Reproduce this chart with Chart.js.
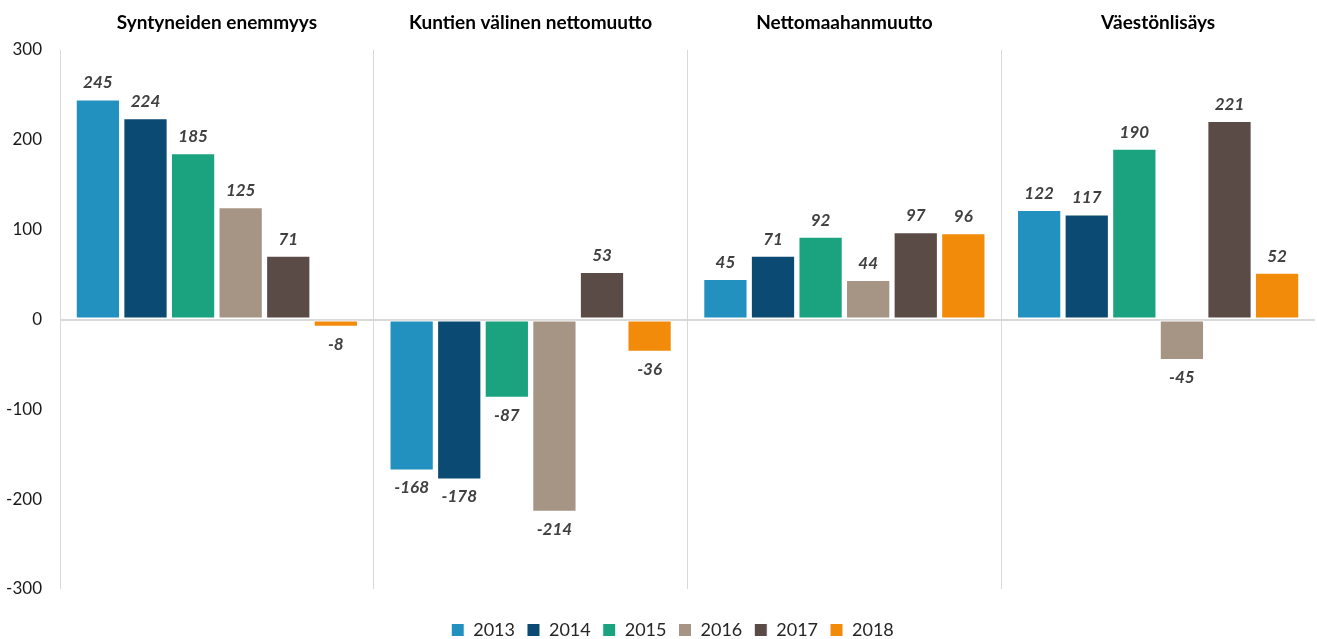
<!DOCTYPE html>
<html>
<head>
<meta charset="utf-8">
<script src="https://cdn.jsdelivr.net/npm/chart.js@4"></script>
<style>
html,body{margin:0;padding:0;background:#fff;}
#wrap{width:1317px;height:639px;position:relative;}
</style>
</head>
<body>
<div id="wrap"><canvas id="c" width="1317" height="639"></canvas></div>
<script>
const categories = ["Syntyneiden enemmyys", "Kuntien välinen nettomuutto", "Nettomaahanmuutto", "Väestönlisäys"];
const years = ["2013", "2014", "2015", "2016", "2017", "2018"];
const v2013 = [245, -168, 45, 122];
const v2014 = [224, -178, 71, 117];
const v2015 = [185, -87, 92, 190];
const v2016 = [125, -214, 44, -45];
const v2017 = [71, 53, 97, 221];
const v2018 = [-8, -36, 96, 52];
const colors = ["#2391C0", "#0B4A72", "#1BA37F", "#A69484", "#5A4B47", "#F28A0A"];
const yTicks = [-300, -200, -100, 0, 100, 200, 300];

const series = [v2013, v2014, v2015, v2016, v2017, v2018];
const FONT = "Lato, 'Open Sans', sans-serif";

const labelPlugin = {
  id: 'valueLabels',
  afterInit(chart) {
    const lg = chart.legend;
    if (lg) {
      const origFit = lg.fit;
      lg.fit = function () { origFit.call(this); this.height = 50; };
      const origDraw = lg.draw;
      lg.draw = function () {
        const c = this.ctx;
        c.save();
        c.translate(15, 20);
        origDraw.call(this);
        c.restore();
      };
    }
  },
  afterDatasetsDraw(chart) {
    const ctx = chart.ctx;
    ctx.save();
    ctx.font = "italic bold 17px " + FONT;
    ctx.fillStyle = "#404040";
    ctx.textAlign = "center";
    chart.data.datasets.forEach((ds, di) => {
      const meta = chart.getDatasetMeta(di);
      meta.data.forEach((el, i) => {
        const v = ds.data[i];
        if (v >= 0) {
          ctx.textBaseline = "bottom";
          ctx.fillText(String(v), el.x, el.y - 8);
        } else {
          ctx.textBaseline = "top";
          ctx.fillText(String(v), el.x, el.y + 9);
        }
      });
    });
    ctx.restore();
  }
};

new Chart(document.getElementById('c'), {
  type: 'bar',
  data: {
    labels: categories,
    datasets: years.map((y, i) => ({
      label: y,
      data: series[i],
      backgroundColor: colors[i],
      borderColor: "#ffffff",
      borderWidth: 1,
      borderSkipped: false,
      categoryPercentage: 0.91,
      barPercentage: 0.93
    }))
  },
  options: {
    responsive: false,
    animation: false,
    layout: { padding: { left: 0, right: 2, top: 0, bottom: 0 } },
    plugins: {
      legend: {
        position: 'bottom',
        labels: {
          font: { size: 18, family: FONT },
          color: "#262626",
          boxWidth: 13,
          boxHeight: 13,
          padding: 12
        }
      },
      tooltip: { enabled: false }
    },
    scales: {
      x: {
        position: 'top',
        offset: true,
        grid: {
          offset: true,
          drawTicks: false,
          color: (ctx) => (ctx.index === undefined || ctx.index >= 4) ? 'rgba(0,0,0,0)' : '#D9D9D9',
          lineWidth: 1
        },
        border: { display: false },
        ticks: {
          font: { size: 19, weight: 'bold', family: FONT },
          color: "#000000",
          padding: 16
        },
        afterFit(scale) { scale.height = 50; }
      },
      y: {
        min: -300,
        max: 300,
        afterBuildTicks(scale) { scale.ticks = yTicks.map(v => ({ value: v })); },
        grid: {
          drawTicks: false,
          color: (ctx) => (ctx.tick && ctx.tick.value === 0) ? '#D9D9D9' : 'rgba(0,0,0,0)',
          lineWidth: 2
        },
        border: { display: false },
        ticks: {
          font: { size: 17, family: FONT },
          color: "#1a1a1a",
          padding: 18
        },
        afterFit(scale) { scale.width = 60; }
      }
    }
  },
  plugins: [labelPlugin]
});
</script>
</body>
</html>
